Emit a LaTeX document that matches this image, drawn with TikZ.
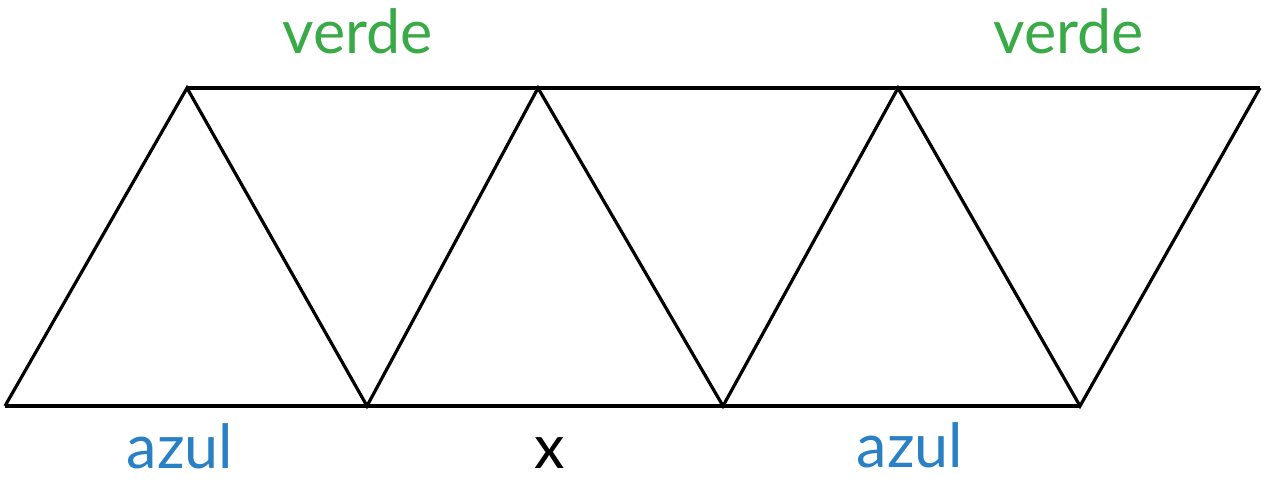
\documentclass[tikz,border=0pt]{standalone}
\usepackage{fontspec}
\setmainfont{Lato}
\definecolor{verdec}{HTML}{3AAA48}
\definecolor{azulc}{HTML}{2A80C4}
\begin{document}
\begin{tikzpicture}[x=1pt,y=-1pt,
  edge/.style={line width=3.2pt,line join=miter},
  lbl/.style={anchor=base,inner sep=0pt,font=\fontsize{61}{70}\selectfont}]
\useasboundingbox (0,0) rectangle (1265,485);
\coordinate (b1) at (5,406);
\coordinate (b2) at (367,406);
\coordinate (b3) at (723,406);
\coordinate (b4) at (1080,406);
\coordinate (t1) at (187,88);
\coordinate (t2) at (538,88);
\coordinate (t3) at (898,88);
\coordinate (t4) at (1260,88);
\draw[edge] (b1) -- (b4);
\draw[edge] (t1) -- (t4);
\draw[edge] (b1) -- (t1) -- (b2) -- (t2) -- (b3) -- (t3) -- (b4) -- (t4);
\node[lbl,text=verdec] (v1) at (358,53) {verde};
\node[lbl,text=verdec] (v2) at (1069,53) {verde};
\node[lbl,text=azulc] (a1) at (180,468) {azul};
\node[lbl] (x) at (550,468) {x};
\node[lbl,text=azulc] (a2) at (910,467) {azul};
\end{tikzpicture}
\end{document}
